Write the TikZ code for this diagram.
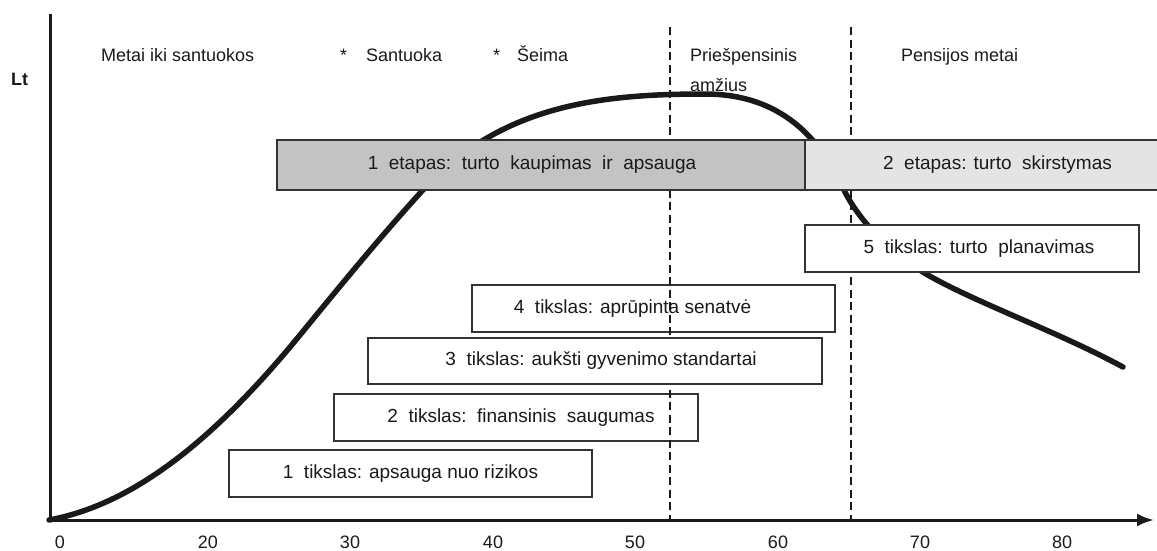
\documentclass[tikz,border=0pt]{standalone}
\usepackage{fontspec}
\setmainfont{Liberation Sans}
\usetikzlibrary{arrows.meta}
\definecolor{txt}{HTML}{1A1A1A}
\definecolor{bord}{HTML}{333333}
\definecolor{stageA}{HTML}{C3C3C3}
\definecolor{stageB}{HTML}{E4E4E4}
\tikzset{
  lbl/.style={inner sep=0pt, font=\fontsize{18}{22}\selectfont, text=txt},
  goal/.style={draw=bord, line width=2pt, fill=white, minimum height=47pt,
               inner sep=0pt, font=\fontsize{19}{22}\selectfont, text=txt},
  stage/.style={goal, minimum height=50pt},
  guide/.style={draw=txt, line width=2.5pt, dash pattern=on 8pt off 4.5pt},
  axisline/.style={draw=txt, line width=3pt},
  wealth/.style={draw=black!90, line width=5.5pt, line cap=round}
}
\begin{document}
\begin{tikzpicture}[x=1pt, y=-1pt]
\useasboundingbox (0,0) rectangle (1157,550);

% curve
\coordinate (c0) at (49,520);
\coordinate (c1) at (300,335);
\coordinate (c2) at (422,191);
\coordinate (c3) at (705,94);
\coordinate (c4) at (843,188);
\coordinate (c5) at (935,279);
\coordinate (c6) at (1123,367);
\draw[wealth] (c0) .. controls (130,505) and (210,445) .. (c1)
  .. controls (345,280) and (382,235) .. (c2)
  .. controls (500,105) and (600,94) .. (c3)
  .. controls (790,94) and (825,150) .. (c4)
  .. controls (857,218) and (890,255) .. (c5)
  .. controls (985,306) and (1060,333) .. (c6);

% goal boxes (dashed guide shows through these)
\node[goal, minimum width=363pt] (g1) at (410.5,473.5) {1~~tikslas: apsauga nuo rizikos};
\node[goal, minimum width=364pt] (g2) at (516,417.5) {\hspace*{10pt}2~~tikslas:~~finansinis~~saugumas};
\node[goal, minimum width=363pt] (g4) at (653.5,308.5) {4~~tikslas: aprūpinta senatvė\hspace*{42pt}};

% dashed separators
\coordinate (d1t) at (670,27); \coordinate (d1b) at (670,520);
\coordinate (d2t) at (851,27); \coordinate (d2b) at (851,520);
\draw[guide] (d1t) -- (d1b);
\draw[guide] (d2t) -- (d2b);

% boxes covering the guides
\node[goal, minimum width=454pt, minimum height=46pt] (g3) at (595,361) {\hspace*{12pt}3~~tikslas: aukšti gyvenimo standartai};
\node[stage, fill=stageA, minimum width=528pt] (s1) at (541,165) {1~~etapas:~~turto~~kaupimas~~ir~~apsauga\hspace*{18pt}};
\node[stage, fill=stageB, minimum width=355pt] (s2) at (982.5,165) {\hspace*{30pt}2~~etapas: turto~~skirstymas};
\node[goal, minimum width=334pt] (g5) at (972,248.5) {\hspace*{14pt}5~~tikslas: turto~~planavimas};

% axes
\coordinate (ytop) at (50,14);
\coordinate (orig) at (50,520);
\coordinate (xend) at (1154,520);
\draw[axisline] (ytop) -- (orig);
\draw[axisline, -{Latex[length=17pt,width=13pt]}] (orig) -- (xend);

% tick labels
\foreach \px/\t [count=\i] in {60/0,208/20,350/30,493/40,635/50,778/60,920/70,1062/80}
  \node[lbl, anchor=base] (tick\i) at (\px,548) {\t};

% labels
\node[lbl, anchor=base west, font=\fontsize{18}{22}\selectfont\bfseries] (lt) at (11,85) {Lt};
\node[lbl, anchor=base west] (p1) at (101,61) {Metai iki santuokos};
\node[lbl, anchor=base west] (p2) at (340,61) {*\hspace{19pt}Santuoka};
\node[lbl, anchor=base west] (p3) at (493,61) {*\hspace{17pt}Šeima};
\node[lbl, anchor=base west] (p4) at (690,61) {Priešpensinis};
\node[lbl, anchor=base west] (p4b) at (690,91) {amžius};
\node[lbl, anchor=base west] (p5) at (901,61) {Pensijos metai};
\end{tikzpicture}
\end{document}
